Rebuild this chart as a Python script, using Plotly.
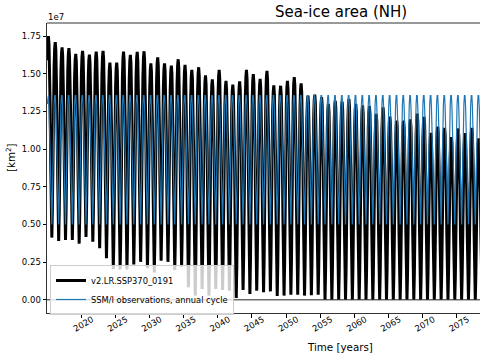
import plotly.graph_objects as go

# ---------------- data (units: 1e7 km^2) ----------------
model_years = list(range(2015, 2079))
model_annual_max = [
    1.750, 1.710, 1.675, 1.670, 1.632, 1.652, 1.628, 1.648, 1.652, 1.575,
    1.575, 1.648, 1.626, 1.646, 1.650, 1.570, 1.610, 1.570, 1.555, 1.597,
    1.560, 1.527, 1.544, 1.490, 1.463, 1.527, 1.454, 1.428, 1.450, 1.527,
    1.498, 1.467, 1.520, 1.423, 1.421, 1.454, 1.478, 1.437, 1.355, 1.362,
    1.345, 1.300, 1.320, 1.315, 1.333, 1.300, 1.290, 1.285, 1.234, 1.278,
    1.216, 1.190, 1.190, 1.197, 1.236, 1.214, 1.108, 1.150, 1.141, 1.080,
    1.137, 1.106, 1.141, 1.071,
]
model_annual_min = [
    0.413, 0.391, 0.398, 0.398, 0.373, 0.417, 0.386, 0.342, 0.276, 0.204,
    0.202, 0.202, 0.235, 0.252, 0.210, 0.182, 0.259, 0.252, 0.197, 0.219,
    0.083, 0.028, 0.072, 0.028, 0.072, 0.065, 0.061, 0.012, 0.065, 0.039,
    0.061, 0.050, 0.056, 0.025, 0.028, 0.034, 0.034, 0.028, 0.030, 0.034,
    0.000, 0.000, 0.000, 0.000, 0.000, 0.000, 0.000, 0.000, 0.000, 0.000,
    0.000, 0.000, 0.000, 0.000, 0.000, 0.000, 0.000, 0.000, 0.000, 0.000,
    0.000, 0.000, 0.000, 0.000,
]
# seasonal position of each month between the annual minimum (0) and maximum (1)
model_month_fraction = [0.88, 0.97, 1.00, 0.96, 0.85, 0.66, 0.38, 0.10, 0.00, 0.15, 0.48, 0.74]
# SSM/I observed monthly climatology (Jan..Dec)
obs_monthly_clim = [1.300, 1.355, 1.355, 1.280, 1.140, 0.970, 0.740, 0.560, 0.500, 0.680, 0.950, 1.150]

y_tick_vals = [0.0, 0.25, 0.5, 0.75, 1.0, 1.25, 1.5, 1.75]
x_tick_vals = [2020, 2025, 2030, 2035, 2040, 2045, 2050, 2055, 2060, 2065, 2070, 2075]

# ---------------- build monthly series ----------------
t, model_vals, obs_vals = [], [], []
for yr, mx, mn in zip(model_years, model_annual_max, model_annual_min):
    for m in range(12):
        t.append(yr + (m + 0.5) / 12.0)
        model_vals.append(mn + model_month_fraction[m] * (mx - mn))
        obs_vals.append(obs_monthly_clim[m])

# ---------------- geometry helpers (pixels -> paper) ----------------
L, T, W, H = 47, 23, 433, 290
def px(x):
    return (x - L) / W
def py(y):
    return (T + H - y) / H

FONT = "DejaVu Sans"

fig = go.Figure()
fig.add_trace(go.Scatter(
    x=t, y=model_vals, mode="lines", name="v2.LR.SSP370_0191",
    line=dict(color="black", width=3),
))
fig.add_trace(go.Scatter(
    x=t, y=obs_vals, mode="lines", name="SSM/I observations, annual cycle",
    line=dict(color="#1f77b4", width=1.2),
))

fig.add_shape(type="line", xref="paper", yref="y", x0=0, x1=1, y0=0, y1=0,
              line=dict(color="#222", width=1), layer="above")
# top spine
fig.add_shape(type="line", xref="paper", yref="paper", x0=0, x1=1, y0=1, y1=1,
              line=dict(color="#333", width=1), layer="above")

fig.add_annotation(text="Sea-ice area (NH)", xref="paper", yref="paper",
                   x=px(341), y=py(12.5), xanchor="center", yanchor="middle",
                   showarrow=False, font=dict(family=FONT, size=15, color="black"))
fig.add_annotation(text="1e7", xref="paper", yref="paper",
                   x=px(46), y=py(17.5), xanchor="left", yanchor="middle",
                   showarrow=False, font=dict(family=FONT, size=8.5, color="black"))
fig.add_annotation(text="[km<sup>2</sup>]", xref="paper", yref="paper",
                   x=px(10), y=py(158), xanchor="center", yanchor="middle", textangle=-90,
                   showarrow=False, font=dict(family=FONT, size=10.3, color="black"))
fig.add_annotation(text="Time [years]", xref="paper", yref="paper",
                   x=px(340), y=py(347), xanchor="center", yanchor="middle",
                   showarrow=False, font=dict(family=FONT, size=10.3, color="black"))

fig.update_layout(
    width=480, height=360,
    margin=dict(l=L, r=0, t=T, b=360 - T - H, pad=0),
    paper_bgcolor="white", plot_bgcolor="white",
    font=dict(family=FONT, size=8.5, color="black"),
    showlegend=True,
    legend=dict(
        x=px(50), y=py(265), xanchor="left", yanchor="top",
        bgcolor="rgba(255,255,255,0.8)", bordercolor="#cccccc", borderwidth=1,
        font=dict(family=FONT, size=8.3, color="black"),
        itemwidth=30, tracegroupgap=0,
    ),
    xaxis=dict(
        range=[2015.0, 2078.4], tickvals=x_tick_vals, tickangle=-30,
        ticks="outside", ticklen=3.5, tickwidth=0.8, tickcolor="black",
        showline=True, linecolor="#333", linewidth=1, showgrid=False, zeroline=False,
        automargin=False, ticklabelshift=11, ticklabelstandoff=-6,
        tickfont=dict(family=FONT, size=8.5),
    ),
    yaxis=dict(
        range=[-0.0875, 1.8375], tickvals=y_tick_vals, tickformat=".2f",
        ticks="outside", ticklen=3.5, tickwidth=0.8, tickcolor="black",
        showline=True, linecolor="#333", linewidth=1, showgrid=False, zeroline=False,
        automargin=False, tickfont=dict(family=FONT, size=8.5),
    ),
)

fig.write_html(
    "out.html",
    config={"displayModeBar": False},
    post_script="document.body.style.margin='0';document.body.style.overflow='hidden';",
)
